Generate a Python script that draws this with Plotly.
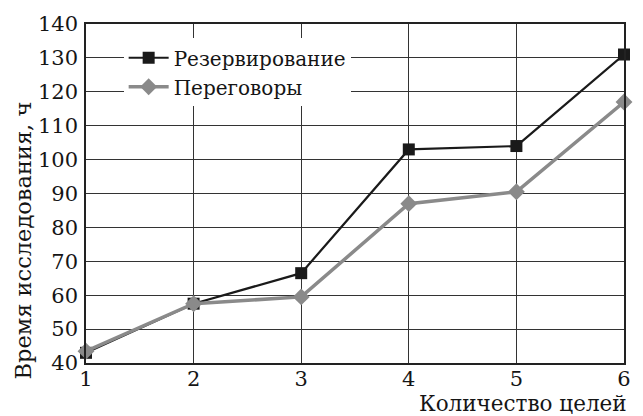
import plotly.graph_objects as go

goals = [1, 2, 3, 4, 5, 6]
reservation = [43, 57.5, 66.5, 103, 104, 131]
negotiation = [43.5, 57.5, 59.5, 87, 90.5, 117]
series_names = ["Резервирование", "Переговоры"]
x_title = "Количество целей"
y_title = "Время исследования, ч"

FONT = "DejaVu Serif"
INK = "#151515"

fig = go.Figure()
fig.add_trace(go.Scatter(
    x=goals, y=reservation, name=series_names[0], mode="lines+markers",
    line=dict(color="#1a1a1a", width=2.2),
    marker=dict(symbol="square", size=12, color="#1a1a1a"),
    cliponaxis=False,
))
fig.add_trace(go.Scatter(
    x=goals, y=negotiation, name=series_names[1], mode="lines+markers",
    line=dict(color="#8a8a8a", width=3.5),
    marker=dict(symbol="diamond", size=13, color="#8a8a8a"),
    cliponaxis=False,
))

axis_common = dict(
    showline=True, linecolor="#222", linewidth=1.5, mirror=True,
    showgrid=True, gridcolor="#333", gridwidth=1.3,
    zeroline=False, ticks="",
    tickfont=dict(family=FONT, size=21, color=INK),
)
fig.update_xaxes(range=[1, 6], dtick=1, tick0=1, ticklabelstandoff=-4, **axis_common)
fig.update_yaxes(range=[40, 140], dtick=10, tick0=40, ticklabelstandoff=2, **axis_common)

fig.add_annotation(
    text=x_title, xref="paper", yref="paper", x=1.01, y=-0.162,
    xanchor="right", yanchor="bottom", showarrow=False,
    font=dict(family=FONT, size=21.5, color=INK),
)
fig.add_annotation(
    text=y_title, xref="paper", yref="paper", x=-0.118, y=0.36,
    xanchor="center", yanchor="middle", textangle=-90, showarrow=False,
    font=dict(family=FONT, size=22.5, color=INK),
)

fig.update_layout(
    width=643, height=416,
    margin=dict(l=86, r=14, t=24, b=53),
    paper_bgcolor="white", plot_bgcolor="white",
    showlegend=True,
    legend=dict(
        x=0.07, y=0.958, xanchor="left", yanchor="top",
        bgcolor="white", borderwidth=0,
        font=dict(family=FONT, size=20, color=INK),
        itemwidth=40, tracegroupgap=0,
    ),
)

fig.write_html("out.html")
